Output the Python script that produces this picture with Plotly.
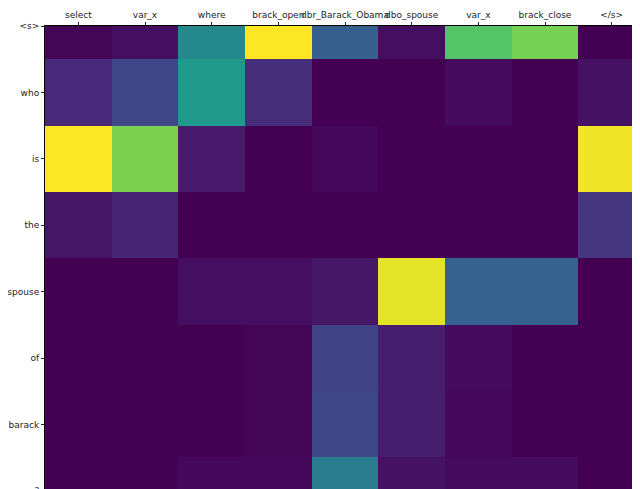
import plotly.graph_objects as go

# output tokens (columns) and input tokens (rows)
out_tokens = ['select', 'var_x', 'where', 'brack_open', 'dbr_Barack_Obama',
              'dbo_spouse', 'var_x', 'brack_close', '&lt;/s&gt;']
in_tokens = ['&lt;s&gt;', 'who', 'is', 'the', 'spouse', 'of', 'barack', '?']

# attention weights, one list per input token
att_s = [0.01, 0.04, 0.47, 1.00, 0.30, 0.04, 0.73, 0.79, 0.00]
att_who = [0.11, 0.22, 0.54, 0.13, 0.00, 0.00, 0.03, 0.00, 0.05]
att_is = [1.00, 0.80, 0.07, 0.00, 0.02, 0.00, 0.00, 0.00, 0.98]
att_the = [0.06, 0.10, 0.00, 0.00, 0.00, 0.00, 0.00, 0.00, 0.16]
att_spouse = [0.00, 0.00, 0.04, 0.04, 0.06, 0.96, 0.31, 0.31, 0.00]
att_of = [0.00, 0.00, 0.00, 0.01, 0.20, 0.08, 0.03, 0.00, 0.00]
att_barack = [0.00, 0.00, 0.00, 0.01, 0.22, 0.08, 0.02, 0.00, 0.00]
att_q = [0.00, 0.00, 0.02, 0.02, 0.42, 0.05, 0.03, 0.03, 0.00]

z = [att_s, att_who, att_is, att_the, att_spouse, att_of, att_barack, att_q]
cols = list(range(len(out_tokens)))
rows = list(range(len(in_tokens)))

fig = go.Figure()
fig.add_trace(go.Heatmap(z=z, x=cols, y=rows, colorscale='Viridis',
                         zmin=0, zmax=1, showscale=False, hoverinfo='skip'))

axis_font = dict(family='DejaVu Sans', size=9, color='#222')
fig.update_xaxes(side='top', tickvals=cols, ticktext=out_tokens, range=[-0.5, 8.5],
                 tickangle=0, automargin=False,
                 ticks='outside', ticklen=3, tickcolor='#222', mirror='ticks',
                 showline=True, linecolor='black', linewidth=1,
                 showgrid=False, zeroline=False, tickfont=axis_font)
# only the middle of the first and last rows is kept, like the reference
fig.update_yaxes(tickvals=rows, ticktext=in_tokens, range=[7, 0], automargin=False,
                 ticks='outside', ticklen=3, tickcolor='#222',
                 showline=True, linecolor='black', linewidth=1,
                 showgrid=False, zeroline=False, tickfont=axis_font)
fig.update_layout(width=640, height=489, margin=dict(l=37, r=3, t=18, b=6),
                  plot_bgcolor='white', paper_bgcolor='white')

fig.write_html("out.html")
